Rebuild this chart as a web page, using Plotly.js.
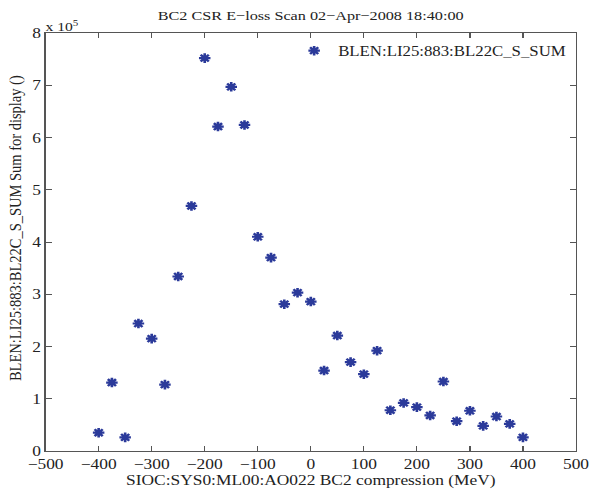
<!DOCTYPE html>
<html>
<head>
<meta charset="utf-8">
<script src="https://cdn.plot.ly/plotly-3.0.1.min.js"></script>
<style>
html,body{margin:0;padding:0;background:#fff;overflow:hidden;}
#wrap{width:594px;height:492px;overflow:hidden;}
#chart{width:495px;height:492px;transform:scaleX(1.2);transform-origin:0 0;}
</style>
</head>
<body>
<div id="wrap"><div id="chart"></div></div>
<script>
const compression = [-400,-375,-350,-325,-300,-275,-250,-225,-200,-175,-150,-125,-100,-75,-50,-25,0,25,50,75,100,125,150,175,200,225,250,275,300,325,350,375,400];
const blenSum = [35000,131000,26000,244000,215000,127000,334000,469000,752000,621000,697000,624000,410000,370000,281000,303000,286000,154000,221000,170000,147000,192000,78000,92000,84000,68000,133000,57000,77000,48000,66000,52000,26000];
const yTickVals = [0,100000,200000,300000,400000,500000,600000,700000,800000];
const yTickText = ['0','1','2','3','4','5','6','7','8'];
const xTickVals = [-500,-400,-300,-200,-100,0,100,200,300,400,500];
const xTickText = ['−500','−400','−300','−200','−100','0','100','200','300','400','500'];

const font = 'Liberation Serif, Times New Roman, serif';
const txt = '#222';
const trace = {
  x: compression, y: blenSum, type: 'scatter', mode: 'markers',
  name: 'BLEN:LI25:883:BL22C_S_SUM',
  marker: {symbol: 'asterisk-open', size: 8, color: '#2b3a9a', line: {color: '#2b3a9a', width: 2.2}}
};
const axisCommon = {
  showline: true, linecolor: '#555', linewidth: 1, mirror: 'ticks',
  ticks: 'inside', ticklen: 5, tickcolor: '#555', showgrid: false, zeroline: false,
  tickfont: {family: font, size: 14.5, color: txt}
};
const layout = {
  width: 495, height: 492,
  margin: {l: 38, r: 15, t: 33, b: 41},
  paper_bgcolor: '#fff', plot_bgcolor: '#fff',
  title: {text: 'BC2 CSR E−loss Scan 02−Apr−2008 18:40:00', font: {family: font, size: 13.5, color: txt},
    x: 0.523, xanchor: 'center', y: 0.9695, yanchor: 'middle'},
  xaxis: Object.assign({}, axisCommon, {range: [-500, 500], tickvals: xTickVals, ticktext: xTickText,
    title: {text: 'SIOC:SYS0:ML00:AO022 BC2 compression (MeV)', font: {family: font, size: 14.5, color: txt}, standoff: 0}}),
  yaxis: Object.assign({}, axisCommon, {range: [0, 800000], tickvals: yTickVals, ticktext: yTickText}),
  showlegend: true,
  legend: {x: 0.995, xanchor: 'right', y: 0.995, yanchor: 'top', bgcolor: 'rgba(255,255,255,0)', borderwidth: 0,
    itemwidth: 30, font: {family: font, size: 14, color: txt}},
  annotations: [
    {xref: 'paper', yref: 'paper', x: 0, y: 1, xanchor: 'left', yanchor: 'bottom', showarrow: false,
     text: 'x 10<sup>5</sup>', font: {family: font, size: 13, color: txt}, xshift: -2, yshift: -3},
    {xref: 'paper', yref: 'paper', x: 0, y: 0.533, xanchor: 'center', yanchor: 'middle', showarrow: false,
     textangle: -90, text: 'BLEN:LI25:883:BL22C_S_SUM Sum for display ()',
     font: {family: font, size: 14.5, color: txt}, xshift: -25}
  ]
};
Plotly.newPlot('chart', [trace], layout, {displayModeBar: false, staticPlot: true});
</script>
</body>
</html>
